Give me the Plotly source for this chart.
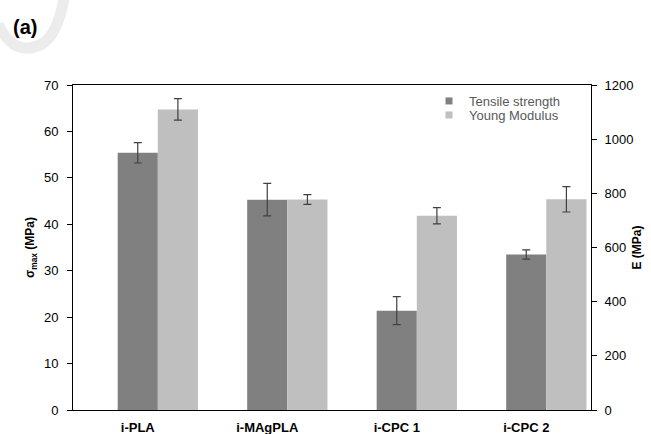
import plotly.graph_objects as go

categories = ["i-PLA", "i-MAgPLA", "i-CPC 1", "i-CPC 2"]
tensile = [55.4, 45.3, 21.4, 33.5]
tensile_err = [2.2, 3.5, 3.0, 1.0]
young = [1110, 777, 717, 778]
young_err = [40, 18, 30, 47]

FONT = "Arial, Liberation Sans, sans-serif"
DARK = "#808080"
LIGHT = "#BFBFBF"

L, R, T, B = 73, 60, 85, 24
W, H = 651, 434
PW, PH = W - L - R, H - T - B


def px(x):
    return (x - L) / PW


def py(y):
    return (H - B - y) / PH


fig = go.Figure()
fig.add_trace(go.Bar(
    x=categories, y=tensile, name="Tensile strength",
    marker=dict(color=DARK, line=dict(width=0)),
    offset=-0.155, width=0.31,
    error_y=dict(type="data", array=tensile_err, color="#404040", thickness=1.2, width=4),
    yaxis="y", showlegend=False,
))
fig.add_trace(go.Bar(
    x=categories, y=young, name="Young Modulus",
    marker=dict(color=LIGHT, line=dict(width=0)),
    offset=0.155, width=0.31,
    error_y=dict(type="data", array=young_err, color="#404040", thickness=1.2, width=4),
    yaxis="y2", showlegend=False,
))
# legend entries with small square swatches, one legend each for tight spacing
for nm, col, lg in [("Tensile strength", DARK, "legend"), ("Young Modulus", LIGHT, "legend2")]:
    fig.add_trace(go.Scatter(
        x=[None], y=[None], mode="markers", name=nm,
        marker=dict(symbol="square", size=7, color=col), showlegend=True,
        legend=lg,
    ))

leg_common = dict(
    xanchor="left", yanchor="middle", bgcolor="rgba(0,0,0,0)",
    font=dict(family=FONT, size=13, color="#595959"), itemwidth=30,
)

fig.update_layout(
    width=W, height=H,
    margin=dict(l=L, r=R, t=T, b=B, autoexpand=False),
    paper_bgcolor="white", plot_bgcolor="white",
    font=dict(family=FONT, size=13, color="#000000"),
    barmode="overlay",
    showlegend=True,
    legend=dict(x=px(429), y=py(101), **leg_common),
    legend2=dict(x=px(429), y=py(115), **leg_common),
    xaxis=dict(
        type="category", range=[-0.5, 3.5], automargin=False,
        showline=True, linecolor="#000000", linewidth=1, mirror=True,
        ticks="", showgrid=False, zeroline=False, ticklabelstandoff=5,
        tickfont=dict(family=FONT, size=13, color="#000000", weight="bold"),
    ),
    yaxis=dict(
        range=[0, 70], dtick=10, automargin=False,
        showline=True, linecolor="#000000", linewidth=1,
        ticks="outside", ticklen=5, tickcolor="#000000", ticklabelstandoff=6,
        showgrid=False, zeroline=False,
        tickfont=dict(family=FONT, size=13, color="#000000"),
        title=dict(text="σ<sub>max</sub> (MPa)", standoff=6,
                   font=dict(family=FONT, size=12, color="#000000", weight="bold")),
    ),
    yaxis2=dict(
        range=[0, 1200], dtick=200, overlaying="y", side="right", automargin=False,
        showline=True, linecolor="#000000", linewidth=1,
        ticks="outside", ticklen=5, tickcolor="#000000", ticklabelstandoff=5,
        showgrid=False, zeroline=False,
        tickfont=dict(family=FONT, size=13, color="#000000"),
        title=dict(text="E (MPa)", standoff=0,
                   font=dict(family=FONT, size=12, color="#000000", weight="bold")),
    ),
)

# faint watermark stroke behind the panel label
fig.add_shape(
    type="path", xref="paper", yref="paper", layer="below",
    path=(f"M {px(-2)},{py(24)} Q {px(14)},{py(58)} {px(42)},{py(44)} "
          f"Q {px(58)},{py(34)} {px(64)},{py(-2)}"),
    line=dict(color="#ececec", width=11),
)

fig.add_annotation(
    text="(a)", xref="paper", yref="paper", x=px(11), y=py(27),
    xanchor="left", yanchor="middle",
    font=dict(family=FONT, size=20, color="#000000", weight="bold"),
    showarrow=False,
)

fig.write_html(
    "out.html",
    config={"displayModeBar": False},
    post_script="document.body.style.margin='0';document.body.style.overflow='hidden';",
)
